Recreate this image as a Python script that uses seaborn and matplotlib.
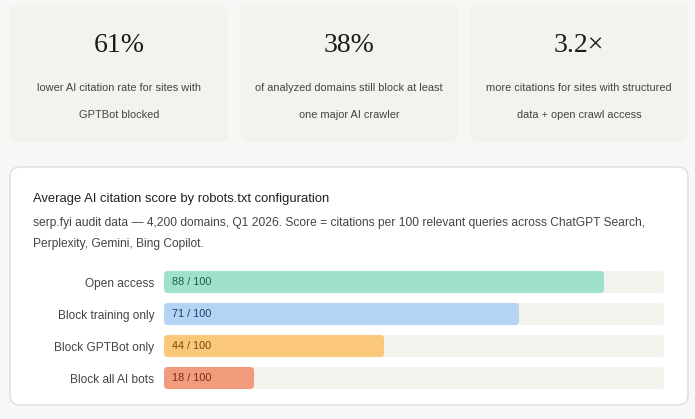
import matplotlib
matplotlib.use("Agg")
import matplotlib.pyplot as plt
from matplotlib.patches import FancyBboxPatch
import pandas as pd
import seaborn as sns

# Данные
categories = ["Open access", "Block training only", "Block GPTBot only", "Block all AI bots"]
scores = [88, 71, 44, 18]
bar_colors = ["#a0e1cb", "#b5d3f2", "#fac878", "#f29b7c"]
label_colors = ["#1f5e47", "#1d3f70", "#6e4a0e", "#7a2c18"]

stat_values = ["61%", "38%", "3.2×"]
stat_captions = [
    "lower AI citation rate for sites with\n\nGPTBot blocked",
    "of analyzed domains still block at least\n\none major AI crawler",
    "more citations for sites with structured\n\ndata + open crawl access",
]

title = "Average AI citation score by robots.txt configuration"
subtitle = ("serp.fyi audit data — 4,200 domains, Q1 2026. Score = citations per 100 relevant queries across ChatGPT Search,\n"
            "Perplexity, Gemini, Bing Copilot.")

df = pd.DataFrame({"config": categories, "score": scores})
df["full"] = 100

sns.set_theme(style="white")
plt.rcParams["font.family"] = ["Liberation Sans", "DejaVu Sans"]

W, H = 695, 419
fig = plt.figure(figsize=(W / 100, H / 100), dpi=100)
fig.patch.set_facecolor("#f7f7f5")

# Фоновая ось в пикселях
bg = fig.add_axes([0, 0, 1, 1])
bg.set_xlim(0, W)
bg.set_ylim(H, 0)
bg.axis("off")

# Карточки со статистикой
card_x = [10, 240, 470]
for i, x0 in enumerate(card_x):
    bg.add_patch(FancyBboxPatch((x0, 5), 218, 137, boxstyle="round,pad=0,rounding_size=8",
                                fc="#f3f2ec", ec="none"))
    bg.text(x0 + 109, 45, stat_values[i], ha="center", va="center", fontsize=20,
            family=["Liberation Serif", "DejaVu Serif"], color="#1a1a1a")
    bg.text(x0 + 109, 101.5, stat_captions[i], ha="center", va="center", fontsize=7.9,
            color="#444444", linespacing=1.43)

# Панель графика
bg.add_patch(FancyBboxPatch((10, 167), 678, 238, boxstyle="round,pad=0,rounding_size=10",
                            fc="white", ec="#dddddd", lw=1))
bg.text(33, 199, title, ha="left", va="center", fontsize=9.35, color="#222222")
bg.text(33, 233.5, subtitle, ha="left", va="center", fontsize=8.65, color="#444444", linespacing=1.95)

# Ось для полос
ax = fig.add_axes([164 / W, 1 - 394 / H, 500 / W, 128 / H])
ax.set_facecolor("none")
sns.barplot(data=df, x="full", y="config", color="#f3f2ec", width=0.69, saturation=1, ax=ax)
sns.barplot(data=df, x="score", y="config", hue="config", palette=bar_colors,
            width=0.69, saturation=1, legend=False, ax=ax)

# Скругление углов полос
for p in list(ax.patches):
    x, y = p.get_x(), p.get_y()
    w, h = p.get_width(), p.get_height()
    fc = p.get_facecolor()
    p.remove()
    ax.add_patch(FancyBboxPatch((x, y), w, h, boxstyle="round,pad=0,rounding_size=0.8",
                                mutation_aspect=5 / 32, fc=fc, ec="none"))

ax.set_xlim(0, 100)
ax.set_ylim(3.5, -0.5)
ax.set_xlabel("")
ax.set_ylabel("")
ax.set_xticks([])
ax.tick_params(axis="y", length=0, pad=7, labelsize=8.6, labelcolor="#444444")
sns.despine(ax=ax, left=True, bottom=True)

for i, s in enumerate(scores):
    ax.text(1.6, i, f"{s} / 100", ha="left", va="center", fontsize=7.8,
            color=label_colors[i], fontweight="medium")

fig.savefig("out.png", dpi=100, facecolor=fig.get_facecolor())
